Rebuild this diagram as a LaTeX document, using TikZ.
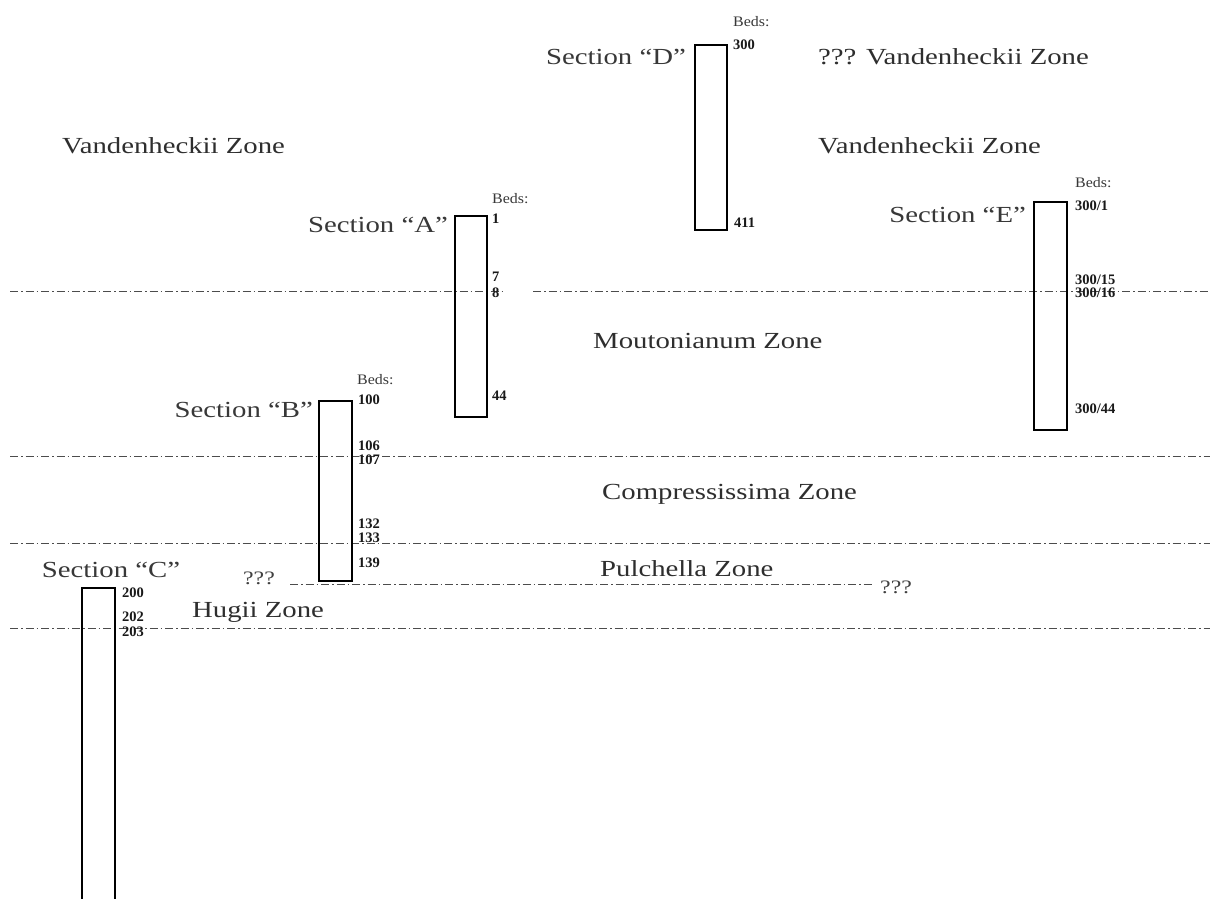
\documentclass[tikz,border=0pt]{standalone}
\usepackage{fontspec}
\setmainfont{Liberation Serif}
\newfontfamily\widefont[FakeStretch=1.25]{Liberation Serif}
\newfontfamily\bedsfont[FakeStretch=1.1]{Liberation Serif}
\begin{document}
\begin{tikzpicture}[x=1pt,y=-1pt,
  col/.style={draw=black,line width=1.6pt,fill=none},
  zone/.style={font=\widefont\fontsize{23}{26}\selectfont,text=black!82,inner sep=0pt},
  sect/.style={font=\widefont\fontsize{23}{26}\selectfont,text=black!78,inner sep=0pt,anchor=east},
  beds/.style={font=\bedsfont\fontsize{14.5}{16}\selectfont,text=black!78,inner sep=0pt,anchor=west},
  bed/.style={font=\bfseries\fontsize{14.5}{16}\selectfont,text=black!90,inner sep=0pt,anchor=west},
  boundary/.style={draw=black!70,line width=0.8pt,dash pattern=on 8pt off 3pt on 1.5pt off 3pt},
  q/.style={font=\widefont\fontsize{19}{21}\selectfont,text=black!75,inner sep=0pt}]
\useasboundingbox (0,0) rectangle (1210,898);
\fill[white] (0,0) rectangle (1210,898);

% boundaries
\coordinate (l1a) at (10,291); \coordinate (l1b) at (503,291);
\coordinate (l1c) at (533,291); \coordinate (l1d) at (1210,291);
\coordinate (l2a) at (10,456); \coordinate (l2b) at (1210,456);
\coordinate (l3a) at (10,543); \coordinate (l3b) at (1210,543);
\coordinate (l4a) at (290,584); \coordinate (l4b) at (874,584);
\coordinate (l5a) at (10,628); \coordinate (l5b) at (1210,628);
\draw[boundary] (l1a) -- (l1b);
\draw[boundary] (l1c) -- (l1d);
\draw[boundary] (l2a) -- (l2b);
\draw[boundary] (l3a) -- (l3b);
\draw[boundary,line width=0.6pt] (l4a) -- (l4b);
\draw[boundary] (l5a) -- (l5b);

% zone labels
\node[zone,anchor=west] (vz1) at (62,146) {Vandenheckii Zone};
\node[zone,anchor=west] (vz2) at (818,146) {Vandenheckii Zone};
\node[zone,anchor=west] (vz3) at (818,57) {??? Vandenheckii Zone};
\node[zone,anchor=west] (mz) at (593,341) {Moutonianum Zone};
\node[zone,anchor=west] (cz) at (602,494) {Compressissima Zone};
\node[zone,anchor=west] (pz) at (600,569) {Pulchella Zone};
\node[zone,anchor=west] (hz) at (192,612) {Hugii Zone};
\node[q,anchor=west] (q1) at (243,578) {???};
\node[q,anchor=west] (q2) at (880,587) {???};

% Section D
\node[col,minimum width=32pt,minimum height=185pt,inner sep=0pt,anchor=north west] (D) at (694,44) {};
\node[sect] (Dl) at (686,57) {Section “D”};
\node[beds] (Db) at (733,22) {Beds:};
\node[bed] at (733,45) {300};
\node[bed] at (734,223) {411};

% Section A
\node[col,minimum width=32pt,minimum height=201pt,inner sep=0pt,anchor=north west] (A) at (454,215) {};
\node[sect] (Al) at (448,225) {Section “A”};
\node[beds] (Ab) at (492,199) {Beds:};
\node[bed] at (492,219) {1};
\node[bed] at (492,277) {7};
\node[bed] at (492,293) {8};
\node[bed] at (492,396) {44};

% Section E
\node[col,minimum width=33pt,minimum height=228pt,inner sep=0pt,anchor=north west] (E) at (1033,201) {};
\node[sect] (El) at (1026,215) {Section “E”};
\node[beds] (Eb) at (1075,183) {Beds:};
\node[bed] at (1075,206) {300/1};
\node[bed] at (1075,280) {300/15};
\node[bed] at (1075,293) {300/16};
\node[bed] at (1075,409) {300/44};

% Section B
\node[col,minimum width=33pt,minimum height=180pt,inner sep=0pt,anchor=north west] (B) at (318,400) {};
\node[sect] (Bl) at (313,410) {Section “B”};
\node[beds] (Bb) at (357,380) {Beds:};
\node[bed] at (358,400) {100};
\node[bed] at (358,446) {106};
\node[bed] at (358,460) {107};
\node[bed] at (358,524) {132};
\node[bed] at (358,538) {133};
\node[bed] at (358,563) {139};

% Section C (open at the bottom)
\coordinate (C1) at (82,900); \coordinate (C2) at (82,588);
\coordinate (C3) at (115,588); \coordinate (C4) at (115,900);
\draw[col] (C1) -- (C2) -- (C3) -- (C4);
\node[sect,anchor=center] (Cl) at (111,570) {Section “C”};
\node[bed] at (122,593) {200};
\node[bed] at (122,617) {202};
\node[bed] at (122,632) {203};
\end{tikzpicture}
\end{document}
